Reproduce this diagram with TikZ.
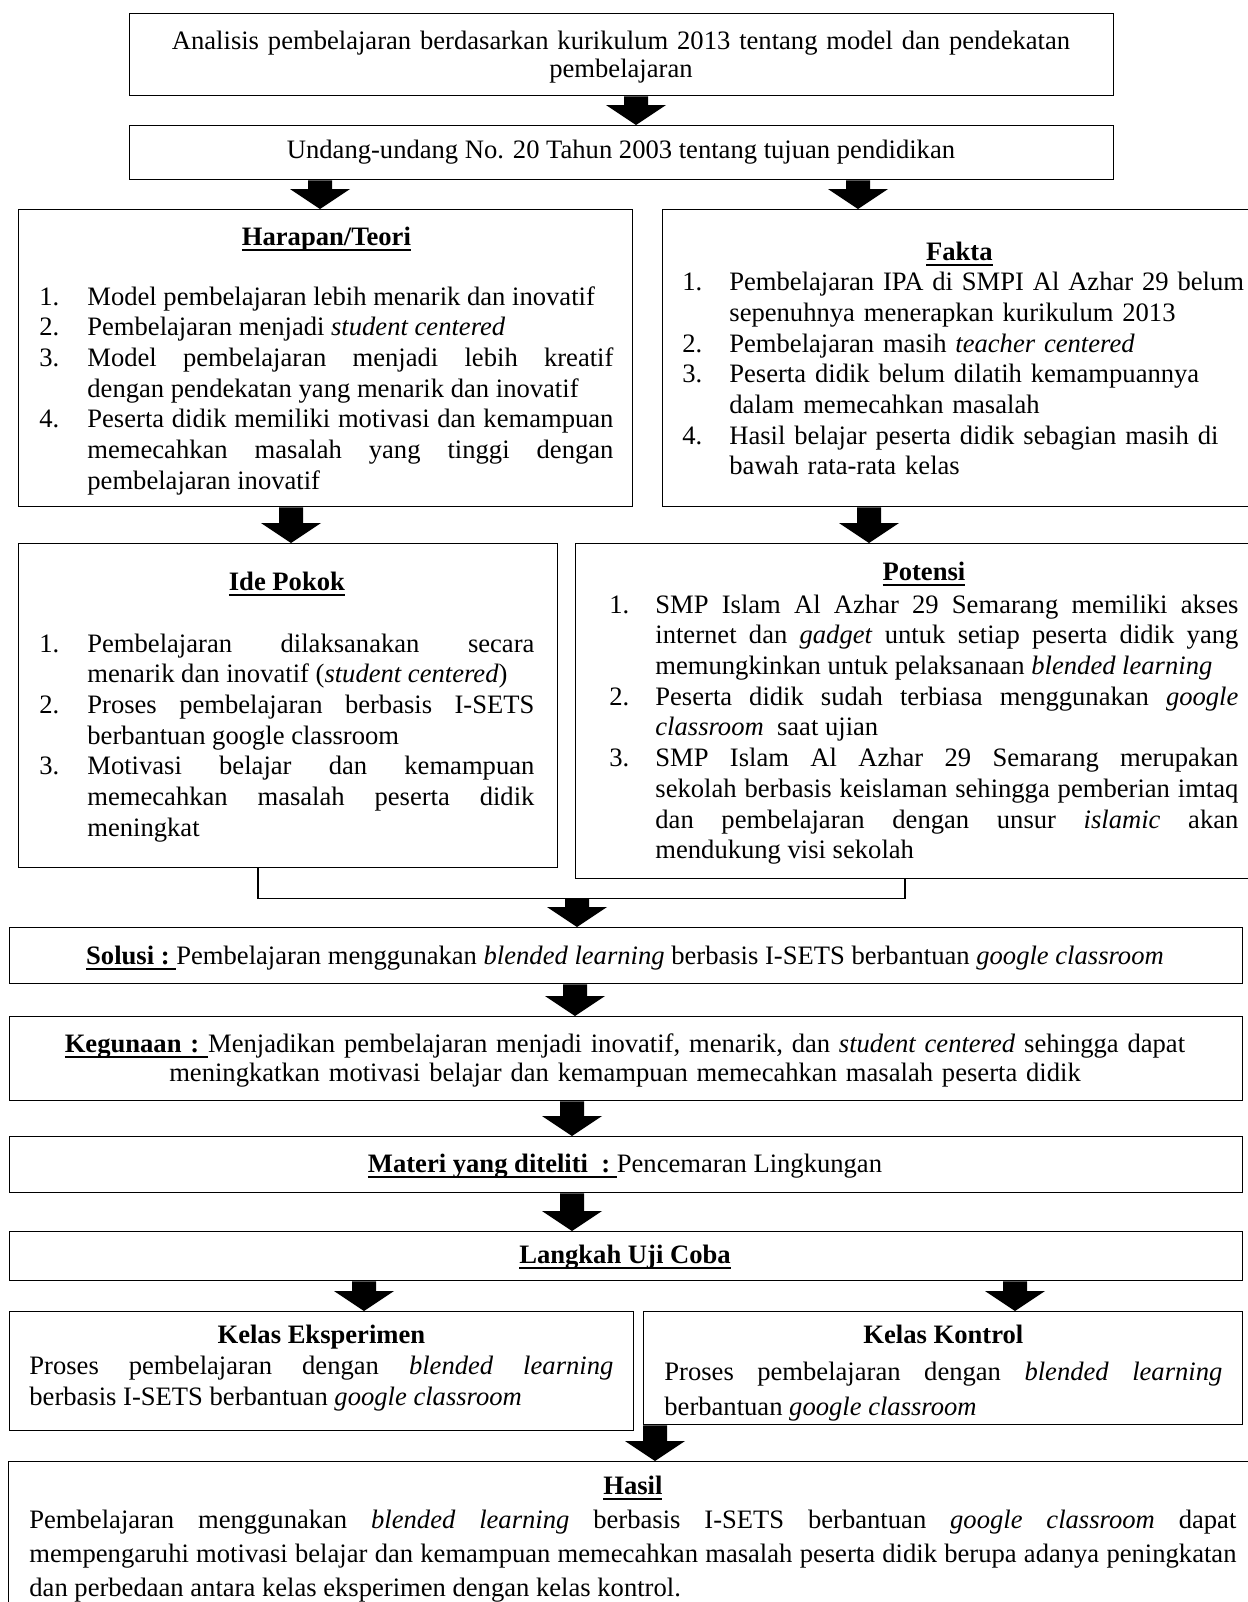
\documentclass[tikz,border=0pt]{standalone}
\usepackage{fontspec}
\setmainfont{Liberation Serif}
\usetikzlibrary{calc}
\newsavebox\ulbox
\newcommand\myul[1]{\sbox\ulbox{#1}\leavevmode\rlap{\rule[-3pt]{\wd\ulbox}{0.8pt}}\usebox\ulbox}
\newlength\itmind
\newcommand\itm[2]{\par\noindent\hangindent=\itmind\hangafter=1\makebox[\itmind][l]{#1}#2\par}
\newcommand\ttl[1]{{\centering #1\par}}
\newcommand\barrow[2]{\fill let \p1=#1, \p2=#2 in (\x1-6pt,\y1) -- (\x1+6pt,\y1) -- (\x1+6pt,\y2+10pt) -- (\x1+15pt,\y2+10pt) -- (\x1,\y2) -- (\x1-15pt,\y2+10pt) -- (\x1-6pt,\y2+10pt) -- cycle;}
\tikzset{
  box/.style={draw, line width=0.7pt, rectangle, inner sep=0pt, anchor=north west},
  txt/.style={inner sep=0pt, font=\fontsize{13.3}{15.35}\selectfont},
  conn/.style={line width=0.7pt}
}
\begin{document}
\begin{tikzpicture}[x=0.5pt,y=-0.5pt]
\useasboundingbox (0,0) rectangle (1248,1602);
\fill[white] (0,0) rectangle (1248,1602);

% top boxes
\node[box, minimum width=492pt, minimum height=41pt] (b1) at (129,13) {};
\node[txt, text width=480pt, align=center, anchor=base, font=\fontsize{13.3}{14}\selectfont] (b1t) at (621,49) {Analisis pembelajaran berdasarkan kurikulum 2013 tentang model dan pendekatan\\pembelajaran};

\node[box, minimum width=492pt, minimum height=27pt] (b2) at (129,125) {};
\node[txt, anchor=base] (b2t) at (621,158) {Undang-undang No. 20 Tahun 2003 tentang tujuan pendidikan};

% Harapan
\node[box, minimum width=307pt, minimum height=148.5pt] (har) at (18,209) {};
\node[txt, text width=287pt, align=justify, anchor=base west] (hart) at (39,245) {\setlength\itmind{24pt}\ttl{\myul{\textbf{Harapan/Teori}}}\vskip14.7pt
\itm{1.}{Model pembelajaran lebih menarik dan inovatif}
\itm{2.}{Pembelajaran menjadi \textit{student centered}}
\itm{3.}{Model pembelajaran menjadi lebih kreatif \linebreak dengan pendekatan yang menarik dan inovatif}
\itm{4.}{Peserta didik memiliki motivasi dan kemampuan \linebreak memecahkan masalah yang tinggi dengan \linebreak pembelajaran inovatif}};

% Fakta
\node[box, minimum width=297pt, minimum height=148.5pt] (fak) at (662,209) {};
\node[txt, text width=290pt, align=left, anchor=base west] (fakt) at (682,260) {\setlength\itmind{23.5pt}\ttl{\hspace*{-13pt}\myul{\textbf{Fakta}}}
\itm{1.}{Pembelajaran IPA di SMPI Al Azhar 29 belum\newline sepenuhnya menerapkan kurikulum 2013}
\itm{2.}{Pembelajaran masih \textit{teacher centered}}
\itm{3.}{Peserta didik belum dilatih kemampuannya\newline dalam memecahkan masalah}
\itm{4.}{Hasil belajar peserta didik sebagian masih di\newline bawah rata-rata kelas}};

% Ide Pokok
\node[box, minimum width=269.5pt, minimum height=162pt] (ide) at (18,543) {};
\node[txt, text width=247.5pt, align=justify, anchor=base west] (idet) at (39,590) {\setlength\itmind{24pt}\ttl{\myul{\textbf{Ide Pokok}}}\vskip15.7pt
\itm{1.}{Pembelajaran dilaksanakan secara \linebreak menarik dan inovatif (\textit{student centered})}
\itm{2.}{Proses pembelajaran berbasis I-SETS \linebreak berbantuan google classroom}
\itm{3.}{Motivasi belajar dan kemampuan \linebreak memecahkan masalah peserta didik \linebreak meningkat}};

% Potensi
\node[box, minimum width=343.5pt, minimum height=167.5pt] (pot) at (575,543) {};
\node[txt, text width=314.5pt, align=justify, anchor=base west] (pott) at (609,580) {\setlength\itmind{23pt}\ttl{\myul{\textbf{Potensi}}}\vskip1.2pt
\itm{1.}{SMP Islam Al Azhar 29 Semarang memiliki akses \linebreak internet dan \textit{gadget} untuk setiap peserta didik yang \linebreak memungkinkan untuk pelaksanaan \textit{blended learning}}
\itm{2.}{Peserta didik sudah terbiasa menggunakan \textit{google} \linebreak \textit{classroom}\ \ saat ujian}
\itm{3.}{SMP Islam Al Azhar 29 Semarang merupakan \linebreak sekolah berbasis keislaman sehingga pemberian imtaq \linebreak dan pembelajaran dengan unsur \textit{islamic} akan \linebreak mendukung visi sekolah}};

% joining connector
\coordinate (jl) at ($(ide.south west)+(240,30)$);
\coordinate (jr) at ($(pot.south west)+(330,19)$);
\draw[conn] ($(ide.south west)+(240,0)$) -- (jl) -- (jr) -- ($(pot.south west)+(330,0)$);

% Solusi
\node[box, minimum width=616.5pt, minimum height=28pt] (sol) at (9,927) {};
\node[txt, anchor=base] (solt) at (625,964) {\myul{\textbf{Solusi :}\ }Pembelajaran menggunakan \textit{blended learning} berbasis I-SETS berbantuan \textit{google classroom}};

% Kegunaan
\node[box, minimum width=616.5pt, minimum height=42pt] (keg) at (9,1016) {};
\node[txt, text width=600pt, align=center, anchor=base, font=\fontsize{13.3}{14.5}\selectfont] (kegt) at (625,1052) {\myul{\textbf{Kegunaan :}\ }Menjadikan pembelajaran menjadi inovatif, menarik, dan \textit{student centered} sehingga dapat\\meningkatkan motivasi belajar dan kemampuan memecahkan masalah peserta didik};

% Materi
\node[box, minimum width=616.5pt, minimum height=28pt] (mat) at (9,1136) {};
\node[txt, anchor=base] (matt) at (625,1172) {\myul{\textbf{Materi yang diteliti\ \ :}\ }Pencemaran Lingkungan};

% Langkah
\node[box, minimum width=616.5pt, minimum height=24.5pt] (lan) at (9,1231) {};
\node[txt, anchor=base] (lant) at (625,1263) {\myul{\textbf{Langkah Uji Coba}}};

% Kelas Eksperimen
\node[box, minimum width=312pt, minimum height=59.5pt] (eks) at (9,1311) {};
\node[txt, text width=292pt, align=justify, anchor=base west, font=\fontsize{13.3}{15.5}\selectfont] (ekst) at (29,1343) {\ttl{\textbf{Kelas Eksperimen}}\noindent Proses pembelajaran dengan \textit{blended learning} \linebreak berbasis I-SETS berbantuan \textit{google classroom}\par};

% Kelas Kontrol
\node[box, minimum width=299.5pt, minimum height=56.5pt] (kon) at (643,1311) {};
\node[txt, text width=279pt, align=justify, anchor=base west, font=\fontsize{13.3}{17.5}\selectfont] (kont) at (664,1343) {\ttl{\textbf{Kelas Kontrol}}\vskip1pt\noindent Proses pembelajaran dengan \textit{blended learning} \linebreak berbantuan \textit{google classroom}\par};

% Hasil
\node[box, minimum width=625pt, minimum height=75pt] (has) at (8,1461) {};
\node[txt, text width=603.5pt, align=justify, anchor=base west, font=\fontsize{13.3}{17}\selectfont] (hast) at (29,1494) {\ttl{\myul{\textbf{Hasil}}}\noindent Pembelajaran menggunakan \textit{blended learning} berbasis I-SETS berbantuan \textit{google classroom} dapat \linebreak mempengaruhi motivasi belajar dan kemampuan memecahkan masalah peserta didik berupa adanya peningkatan \linebreak dan perbedaan antara kelas eksperimen dengan kelas kontrol.\par};

% block arrows
\barrow{($(b1.south west)+(507,0)$)}{($(b2.north west)+(507,0)$)}
\barrow{($(b2.south west)+(191,0)$)}{($(har.north west)+(302,0)$)}
\barrow{($(b2.south west)+(729,0)$)}{($(fak.north west)+(196,0)$)}
\barrow{($(har.south west)+(273,0)$)}{($(ide.north west)+(273,0)$)}
\barrow{($(fak.south west)+(207,0)$)}{($(pot.north west)+(294,0)$)}
\barrow{($(jl)+(319,0)$)}{($(sol.north west)+(568,0)$)}
\barrow{($(sol.south west)+(566,0)$)}{($(keg.north west)+(566,0)$)}
\barrow{($(keg.south west)+(563,0)$)}{($(mat.north west)+(563,0)$)}
\barrow{($(mat.south west)+(563,0)$)}{($(lan.north west)+(563,0)$)}
\barrow{($(lan.south west)+(355,0)$)}{($(eks.north west)+(355,0)$)}
\barrow{($(lan.south west)+(1006,0)$)}{($(kon.north west)+(372,0)$)}
\barrow{($(kon.south west)+(12,0)$)}{($(has.north west)+(647,0)$)}
\end{tikzpicture}
\end{document}
